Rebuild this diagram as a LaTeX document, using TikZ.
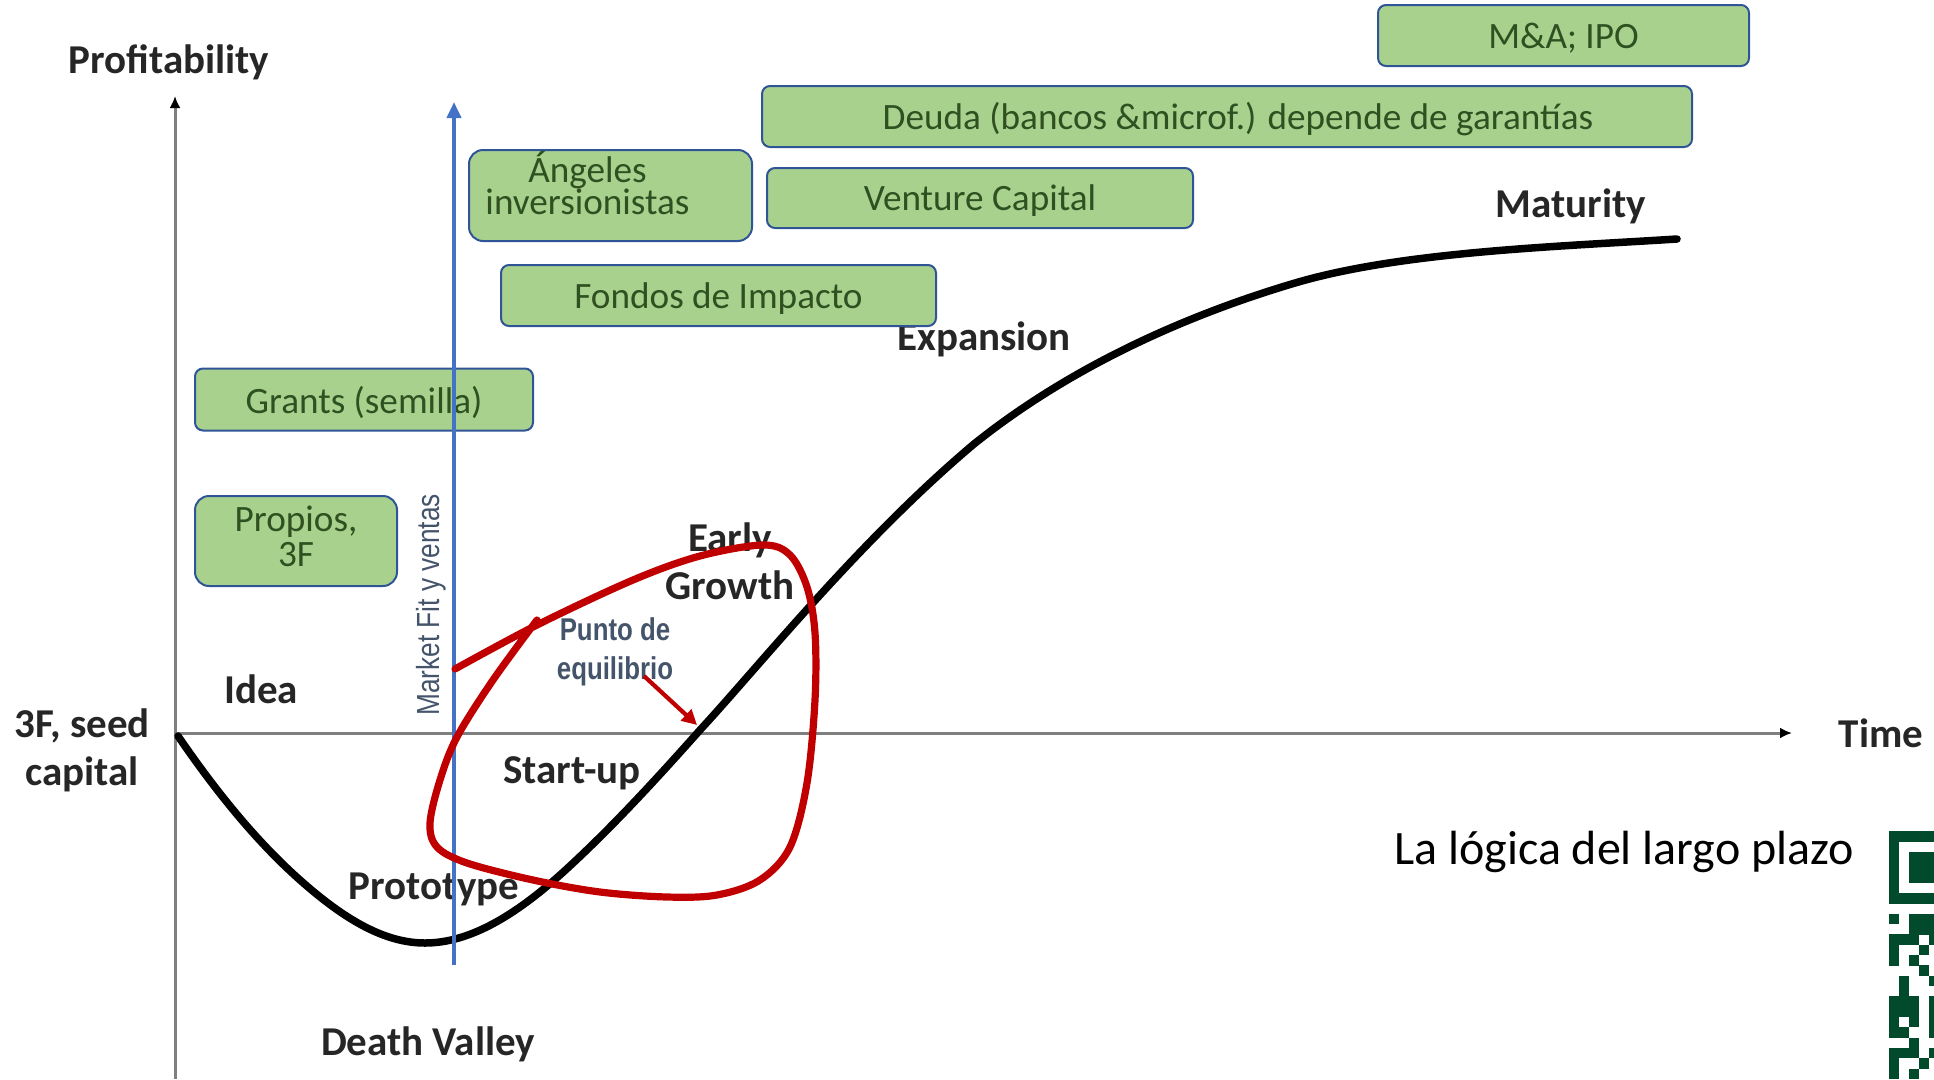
\documentclass[tikz,border=0pt]{standalone}
\usepackage{fontspec}
\setmainfont{Carlito}
\newfontfamily\narrowfont[FakeStretch=0.82]{Liberation Sans}
\usetikzlibrary{arrows.meta}
\definecolor{boxfill}{HTML}{A9D18E}
\definecolor{boxline}{HTML}{2F5597}
\definecolor{boxtext}{HTML}{2F5020}
\definecolor{slate}{HTML}{44546A}
\definecolor{bluearrow}{HTML}{4472C4}
\definecolor{redmark}{HTML}{C00000}
\definecolor{axisgray}{HTML}{7F7F7F}
\definecolor{labeltext}{HTML}{262626}
\definecolor{qrgreen}{HTML}{024A2C}
\newcommand\boxdown[1]{\raisebox{0pt}[\dimexpr\height+6pt\relax][\depth]{#1}}
\newcommand\boxtwo[3]{\begin{tabular}{@{}c@{}}#2\\[#1]#3\end{tabular}}
\tikzset{
  fundbox/.style={draw=boxline,line width=2pt,fill=boxfill,rounded corners=8pt,text=boxtext,font=\fontsize{37.2}{34}\selectfont,align=center,inner sep=0pt},
  stagelabel/.style={font=\fontsize{41}{48}\selectfont\bfseries,text=labeltext,align=center,inner sep=0pt},
  axisline/.style={draw=axisgray,line width=3pt,-{Latex[length=12pt,width=11pt,black]}},
  punto/.style={font=\narrowfont\fontsize{31.5}{39}\selectfont\bfseries,text=slate,align=center,inner sep=0pt},
}
\begin{document}
\begin{tikzpicture}[x=1pt,y=-1pt]
\useasboundingbox (0,0) rectangle (1934,1079);
\clip (0,0) rectangle (1934,1079);
% axes
\coordinate (yb) at (175,1079); \coordinate (yt) at (175,96);
\coordinate (xl) at (177,733); \coordinate (xr) at (1792,733);
\draw[axisline] (yb) -- (yt);
\draw[axisline] (xl) -- (xr);
% black curve
\draw[black,line width=7.5pt,line cap=round] (178,736)
 .. controls (215,790) and (255,840) .. (300,880)
 .. controls (345,920) and (385,943) .. (425,943)
 .. controls (470,943) and (515,915) .. (560,875)
 .. controls (610,830) and (660,775) .. (700,730)
 .. controls (760,665) and (860,540) .. (974,444)
 .. controls (1060,375) and (1170,320) .. (1295,283)
 .. controls (1400,252) and (1550,247) .. (1677,239);
% stage labels
\node[stagelabel] (profit) at (169,62) {Profitability};
\node[stagelabel] (mat) at (1571,206) {Maturity};
\node[stagelabel] (exp) at (984,339) {Expansion};
\node[stagelabel] (early) at (730,561) {Early\\Growth};
\node[stagelabel] (idea) at (261,689) {Idea};
\node[stagelabel] (seed) at (82,750) {3F, seed\\capital};
\node[stagelabel] (time) at (1881,733) {Time};
\node[stagelabel] (start) at (572,773) {Start-up};
\node[stagelabel] (proto) at (434,889) {Prototype};
\node[stagelabel] (death) at (428,1044) {Death Valley};
% funding boxes
\node[fundbox,minimum width=371pt,minimum height=61pt] (ma) at (1563.5,35.5) {\boxdown{M\&A; IPO}};
\node[fundbox,minimum width=930pt,minimum height=61pt] (deuda) at (1227,116.5) {\hspace*{22pt}\boxdown{Deuda (bancos \&microf.) depende de garantías}};
\node[fundbox,minimum width=426pt,minimum height=60pt] (vc) at (980,198) {\boxdown{Venture Capital}};
\node[fundbox,minimum width=283pt,minimum height=91pt,rounded corners=14pt] (ang) at (610.5,195.5) {\hspace*{-46pt}\raisebox{1.5pt}[0pt][0pt]{\boxtwo{-3.5pt}{Ángeles}{inversionistas}}};
\node[fundbox,minimum width=435pt,minimum height=61pt] (fondos) at (718.5,295.5) {\boxdown{Fondos de Impacto}};
\node[fundbox,minimum width=338pt,minimum height=62pt] (grants) at (364,399.5) {\boxdown{Grants (semilla)}};
\node[fundbox,minimum width=202pt,minimum height=90pt,rounded corners=14pt] (prop) at (296,541) {\boxtwo{0.5pt}{Propios,}{3F}};
% market fit arrow
\coordinate (mb) at (454,965); \coordinate (mt) at (454,102);
\draw[bluearrow,line width=3.8pt,-{Triangle[length=16pt,width=14pt]}] (mb) -- (mt);
\node[font=\narrowfont\fontsize{32}{34}\selectfont,text=slate,rotate=90,inner sep=0pt] (mfit) at (431,605) {Market Fit y ventas};
% red freehand loop
\draw[redmark,line width=7.2pt,line cap=round,line join=round] plot[smooth,tension=0.55] coordinates {
 (455,669) (537,625) (633,580) (700,556) (763,545) (790,555) (807,587) (815,633) (815,700) (807,783)
 (790,847) (760,880) (717,895) (667,897) (600,892) (533,880) (467,863) (437,847) (430,823) (440,780)
 (457,737) (493,680) (537,620)};
% punto de equilibrio
\node[punto] (pe) at (615,652) {Punto de\\equilibrio};
\coordinate (pa) at (644,676); \coordinate (pb) at (697,725);
\draw[redmark,line width=4.2pt,-{Triangle[length=15pt,width=15pt]}] (pa) -- (pb);
% caption
\node[font=\fontsize{48}{50}\selectfont,text=black,inner sep=0pt] (cap) at (1624,852) {La lógica del largo plazo};
% QR fragment: columns of modules per row
\def\qrx{1889} \def\qry{831} \def\qrm{10.33}
\foreach \r/\cols in {0/{0,1,2,3,4},1/{0},2/{0,2,3,4},3/{0,2,3,4},4/{0,2,3,4},5/{0},6/{0,1,2,3,4},
 8/{0,2,3,4},9/{2,3,4},10/{0,1,2,4},11/{0,3},12/{0,2},13/{3},14/{1,4},15/{1},16/{0,1,2,4},17/{0,1,2,4},
 18/{0,2,4},19/{0,1,4},20/{2},21/{0,1,2,4},22/{0,3},23/{0,2}}{
  \foreach \c in \cols {
    \fill[qrgreen] ({\qrx+\c*10},{\qry+\r*\qrm}) rectangle ({\qrx+\c*10+10.2},{\qry+\r*\qrm+\qrm+0.2});
  }
}
\end{tikzpicture}
\end{document}
